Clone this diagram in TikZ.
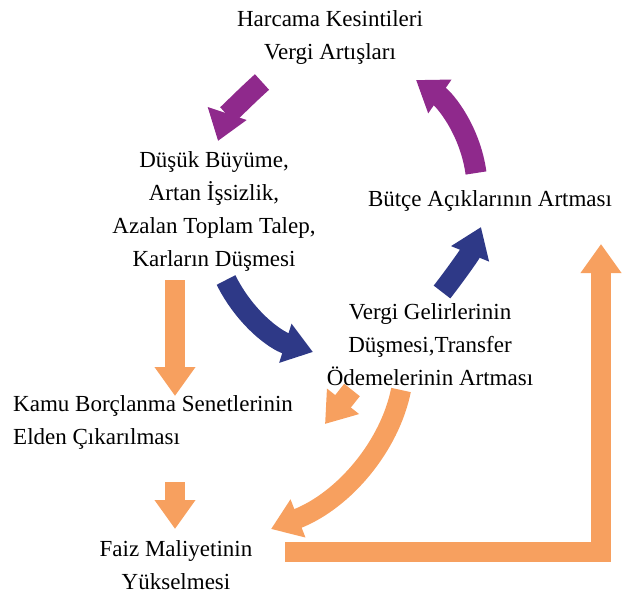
\documentclass[tikz,border=0pt]{standalone}
\usepackage{fontspec}
\setmainfont{Liberation Serif}
\usetikzlibrary{arrows.meta}
\definecolor{loopPurple}{RGB}{143,41,140}
\definecolor{loopBlue}{RGB}{46,57,135}
\definecolor{debtOrange}{RGB}{247,160,95}
\tikzset{
  lbl/.style={align=center,inner sep=0,font=\fontsize{23}{33}\selectfont},
  fat/.style={line width=21pt,-{Triangle[width=39pt,length=29pt]}},
}

\begin{document}
\begin{tikzpicture}[x=1pt,y=-1pt]
\useasboundingbox (0,0) rectangle (639,596);
% text blocks
\node[lbl] (cuts) at (330,38) {Harcama Kesintileri\\Vergi Artışları};
\node[lbl] (growth) at (214,211) {Düşük Büyüme,\\Artan İşsizlik,\\Azalan Toplam Talep,\\Karların Düşmesi};
\node[lbl] (deficit) at (490,201) {Bütçe Açıklarının Artması};
\node[lbl] (revenue) at (430,345) {Vergi Gelirlerinin\\Düşmesi,Transfer\\Ödemelerinin Artması};
\node[lbl,align=left,anchor=west] (bonds) at (13,422) {Kamu Borçlanma Senetlerinin\\Elden Çıkarılması};
\node[lbl] (interest) at (176,565) {Faiz Maliyetinin\\Yükselmesi};
% arrow ends
\coordinate (p1) at (262,82);  \coordinate (p1e) at (218,141);
\coordinate (p2) at (476,173); \coordinate (p2e) at (416,80);
\coordinate (b1) at (226,280); \coordinate (b1e) at (313,352);
\coordinate (b2) at (442,292); \coordinate (b2e) at (481,227);
\coordinate (o1) at (175,280); \coordinate (o1e) at (175,396);
\coordinate (o2) at (175,482); \coordinate (o2e) at (175,529);
\coordinate (o3) at (352,390); \coordinate (o3e) at (325,424);
\coordinate (o4) at (401,390); \coordinate (o4e) at (271,529);
\coordinate (o5) at (285,552); \coordinate (o5e) at (601,244);
% purple
\draw[fat,loopPurple] (p1) .. controls (242,100) and (226,117) .. (p1e);
\draw[fat,loopPurple] (p2) .. controls (470,130) and (445,100) .. (p2e);
% blue
\draw[fat,loopBlue] (b1) .. controls (245,318) and (275,340) .. (b1e);
\draw[fat,loopBlue] (b2) .. controls (456,274) and (470,254) .. (b2e);
% orange
\draw[fat,debtOrange,line width=20pt] (o1) -- (o1e);
\draw[fat,debtOrange,line width=20pt] (o2) -- (o2e);
\draw[fat,debtOrange,line width=20pt] (o3) -- (o3e);
\draw[fat,debtOrange,line width=20pt] (o4) .. controls (390,445) and (345,500) .. (o4e);
\draw[fat,debtOrange,line width=20pt,line join=miter] (o5) -| (o5e);
\end{tikzpicture}
\end{document}
